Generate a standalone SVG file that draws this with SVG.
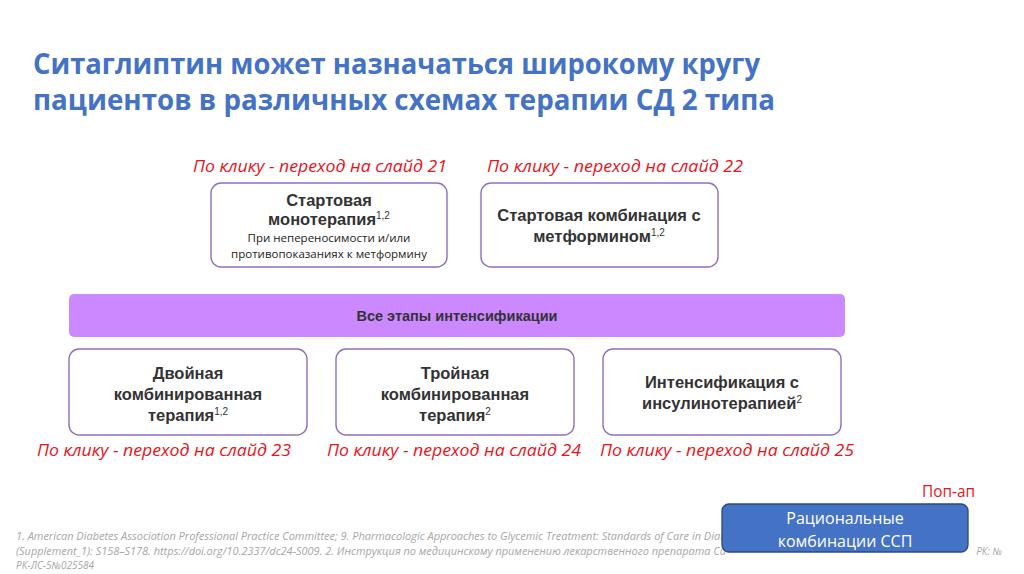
<svg xmlns="http://www.w3.org/2000/svg" width="1024" height="574" viewBox="0 0 1024 574">
<style>
.title{font-family:"Open Sans","Liberation Sans",sans-serif;font-weight:bold;font-size:29px;fill:#4472c4}
.link{font-family:"Open Sans","Liberation Sans",sans-serif;font-style:italic;font-size:17px;fill:#e8141b}
.box{fill:#ffffff;stroke:#8f6fc0;stroke-width:1.4}
.bt{font-family:"Liberation Sans",Arial,sans-serif;font-weight:bold;font-size:16.5px;fill:#333333;text-anchor:middle}
.st{font-family:"Open Sans","Liberation Sans",sans-serif;font-size:11.5px;fill:#222222;text-anchor:middle}
.sup{font-size:10px;font-weight:normal}
.fn{font-family:"Open Sans","Liberation Sans",sans-serif;font-style:italic;font-size:10px;fill:#a6a6a6}
</style>
<rect width="1024" height="574" fill="#ffffff"/>
<g id="title">
<text class="title" x="33" y="74" textLength="727" lengthAdjust="spacingAndGlyphs">Ситаглиптин может назначаться широкому кругу</text>
<text class="title" x="33" y="110" textLength="742" lengthAdjust="spacingAndGlyphs">пациентов в различных схемах терапии СД 2 типа</text>
</g>
<g id="link21"><text class="link" x="193" y="172" textLength="254" lengthAdjust="spacingAndGlyphs">По клику - переход на слайд 21</text></g>
<g id="link22"><text class="link" x="487" y="172" textLength="256" lengthAdjust="spacingAndGlyphs">По клику - переход на слайд 22</text></g>
<g id="mono">
<rect class="box" x="211" y="183" width="236" height="84" rx="10"/>
<text class="bt" x="329" y="206">Стартовая</text>
<text class="bt" x="329" y="225">монотерапия<tspan class="sup" dy="-6">1,2</tspan></text>
<text class="st" x="329" y="242">При непереносимости и/или</text>
<text class="st" x="329" y="258">противопоказаниях к метформину</text>
</g>
<g id="combo">
<rect class="box" x="481" y="183" width="237" height="84" rx="10"/>
<text class="bt" x="599" y="221">Стартовая комбинация с</text>
<text class="bt" x="599" y="242">метформином<tspan class="sup" dy="-6">1,2</tspan></text>
</g>
<g id="bar">
<rect x="69" y="294" width="776" height="43" rx="5" fill="#cc88ff"/>
<text x="457" y="321" font-family="'Liberation Sans',Arial,sans-serif" font-weight="bold" font-size="14.5" fill="#333333" text-anchor="middle">Все этапы интенсификации</text>
</g>
<g id="dual">
<rect class="box" x="69" y="349" width="238" height="86" rx="10"/>
<text class="bt" x="188" y="379">Двойная</text>
<text class="bt" x="188" y="400">комбинированная</text>
<text class="bt" x="188" y="421">терапия<tspan class="sup" dy="-6">1,2</tspan></text>
</g>
<g id="triple">
<rect class="box" x="336" y="349" width="238" height="86" rx="10"/>
<text class="bt" x="455" y="379">Тройная</text>
<text class="bt" x="455" y="400">комбинированная</text>
<text class="bt" x="455" y="421">терапия<tspan class="sup" dy="-6">2</tspan></text>
</g>
<g id="insulin">
<rect class="box" x="603" y="349" width="238" height="86" rx="10"/>
<text class="bt" x="722" y="388">Интенсификация с</text>
<text class="bt" x="722" y="409">инсулинотерапией<tspan class="sup" dy="-6">2</tspan></text>
</g>
<g id="link23"><text class="link" x="37" y="456" textLength="254" lengthAdjust="spacingAndGlyphs">По клику - переход на слайд 23</text></g>
<g id="link24"><text class="link" x="327" y="456" textLength="254" lengthAdjust="spacingAndGlyphs">По клику - переход на слайд 24</text></g>
<g id="link25"><text class="link" x="600" y="456" textLength="254" lengthAdjust="spacingAndGlyphs">По клику - переход на слайд 25</text></g>
<g id="popup-label"><text x="975" y="497" font-family="'Open Sans','Liberation Sans',sans-serif" font-size="16" fill="#e8141b" text-anchor="end" textLength="53" lengthAdjust="spacingAndGlyphs">Поп-ап</text></g>
<g id="footnotes">
<text class="fn" x="16" y="540" textLength="716" lengthAdjust="spacingAndGlyphs">1. American Diabetes Association Professional Practice Committee; 9. Pharmacologic Approaches to Glycemic Treatment: Standards of Care in Diabe</text>
<text class="fn" x="16" y="555" textLength="710" lengthAdjust="spacingAndGlyphs">(Supplement_1): S158–S178. https://doi.org/10.2337/dc24-S009. 2. Инструкция по медицинскому применению лекарственного препарата Си</text>
<text class="fn" x="1002" y="555" text-anchor="end">РК: №</text>
<text class="fn" x="16" y="569">РК-ЛС-5№025584</text>
</g>
<g id="popup-button">
<rect x="722" y="504" width="246" height="48" rx="7" fill="#4472c4" stroke="#2f4a7a" stroke-width="1.3"/>
<text x="845" y="524" font-family="'Open Sans','Liberation Sans',sans-serif" font-size="16" fill="#ffffff" text-anchor="middle">Рациональные</text>
<text x="845" y="547" font-family="'Open Sans','Liberation Sans',sans-serif" font-size="16" fill="#ffffff" text-anchor="middle">комбинации ССП</text>
</g>
</svg>
